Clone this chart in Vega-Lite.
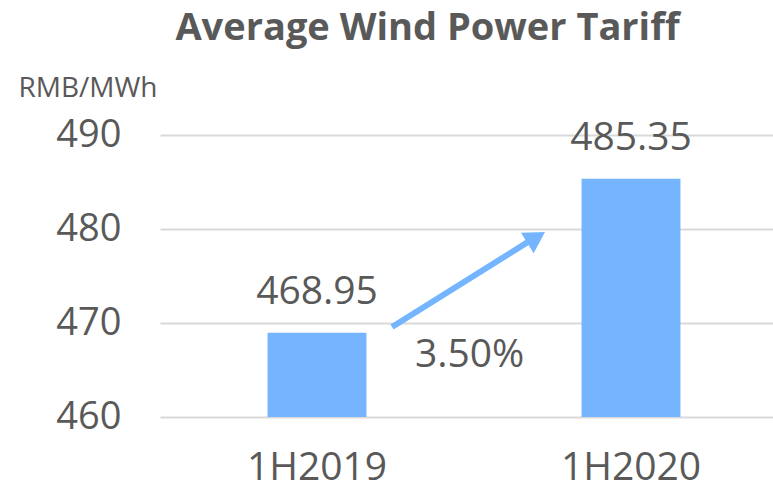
{
  "$schema": "https://vega.github.io/schema/vega-lite/v6.json",
  "autosize": "none",
  "width": 613,
  "height": 282,
  "padding": {"left": 160, "top": 135, "right": 0, "bottom": 68},
  "background": "white",
  "config": {
    "view": {"stroke": null},
    "font": "Open Sans"
  },
  "title": {
    "text": "Average Wind Power Tariff",
    "font": "Open Sans",
    "fontSize": 38,
    "fontWeight": "bold",
    "color": "#595959",
    "anchor": "middle",
    "frame": "group",
    "baseline": "alphabetic",
    "dx": -39,
    "offset": -4
  },
  "datasets": {
    "bars": [
      {"period": "1H2019", "tariff": 468.95},
      {"period": "1H2020", "tariff": 485.35}
    ],
    "arrow": [
      {"ax": 0.739, "ay": 469.57},
      {"ax": 1.19, "ay": 479.0}
    ],
    "head": [
      {"ax": 1.198, "ay": 479.1}
    ],
    "note": [
      {"ax": 0.986, "ay": 465.32, "label": "3.50%"}
    ]
  },
  "layer": [
    {
      "data": {"name": "bars"},
      "layer": [
        {
          "mark": {"type": "bar", "color": "#75B5FF"},
          "encoding": {
            "x": {
              "field": "period",
              "type": "nominal",
              "sort": null,
              "scale": {"range": [0, 628], "paddingInner": 0.685, "paddingOuter": 0.3425},
              "axis": {
                "title": null,
                "labelAngle": 0,
                "labelFontSize": 39,
                "labelColor": "#595959",
                "labelFont": "Open Sans",
                "labelPadding": 31,
                "ticks": false,
                "domain": false,
                "grid": false
              }
            },
            "y": {
              "field": "tariff",
              "type": "quantitative",
              "scale": {"domain": [460, 490], "zero": false, "nice": false},
              "axis": {
                "values": [460, 470, 480, 490],
                "title": "RMB/MWh",
                "titleAngle": 0,
                "titleAlign": "left",
                "titleBaseline": "alphabetic",
                "titleX": -142,
                "titleY": -39,
                "titleFontSize": 28,
                "titleFontWeight": "normal",
                "titleColor": "#595959",
                "titleFont": "Open Sans",
                "labelFontSize": 38,
                "labelColor": "#595959",
                "labelFont": "Open Sans",
                "labelPadding": 39,
                "ticks": false,
                "domain": false,
                "grid": true,
                "gridColor": "#D9D9D9",
                "gridWidth": 2
              }
            },
            "y2": {"datum": 460}
          }
        },
        {
          "mark": {"type": "text", "fontSize": 39, "color": "#595959", "baseline": "alphabetic", "align": "center", "dy": -29, "font": "Open Sans"},
          "encoding": {
            "x": {"field": "period", "type": "nominal", "sort": null},
            "y": {"field": "tariff", "type": "quantitative"},
            "text": {"field": "tariff", "type": "quantitative", "format": ".2f"}
          }
        }
      ]
    },
    {
      "data": {"name": "arrow"},
      "mark": {"type": "line", "color": "#75B5FF", "strokeWidth": 6, "strokeCap": "butt"},
      "encoding": {
        "x": {"field": "ax", "type": "quantitative", "scale": {"domain": [0, 2], "range": [0, 628], "nice": false, "zero": false}, "axis": null},
        "y": {"field": "ay", "type": "quantitative"}
      }
    },
    {
      "data": {"name": "head"},
      "mark": {"type": "point", "shape": "triangle-up", "filled": true, "opacity": 1, "color": "#75B5FF", "size": 576, "angle": 58.2},
      "encoding": {
        "x": {"field": "ax", "type": "quantitative", "scale": {"domain": [0, 2], "range": [0, 628], "nice": false, "zero": false}, "axis": null},
        "y": {"field": "ay", "type": "quantitative"}
      }
    },
    {
      "data": {"name": "note"},
      "mark": {"type": "text", "fontSize": 39, "color": "#595959", "baseline": "alphabetic", "align": "center", "font": "Open Sans"},
      "encoding": {
        "x": {"field": "ax", "type": "quantitative", "scale": {"domain": [0, 2], "range": [0, 628], "nice": false, "zero": false}, "axis": null},
        "y": {"field": "ay", "type": "quantitative"},
        "text": {"field": "label"}
      }
    }
  ],
  "resolve": {"scale": {"x": "independent"}, "axis": {"x": "independent"}}
}
